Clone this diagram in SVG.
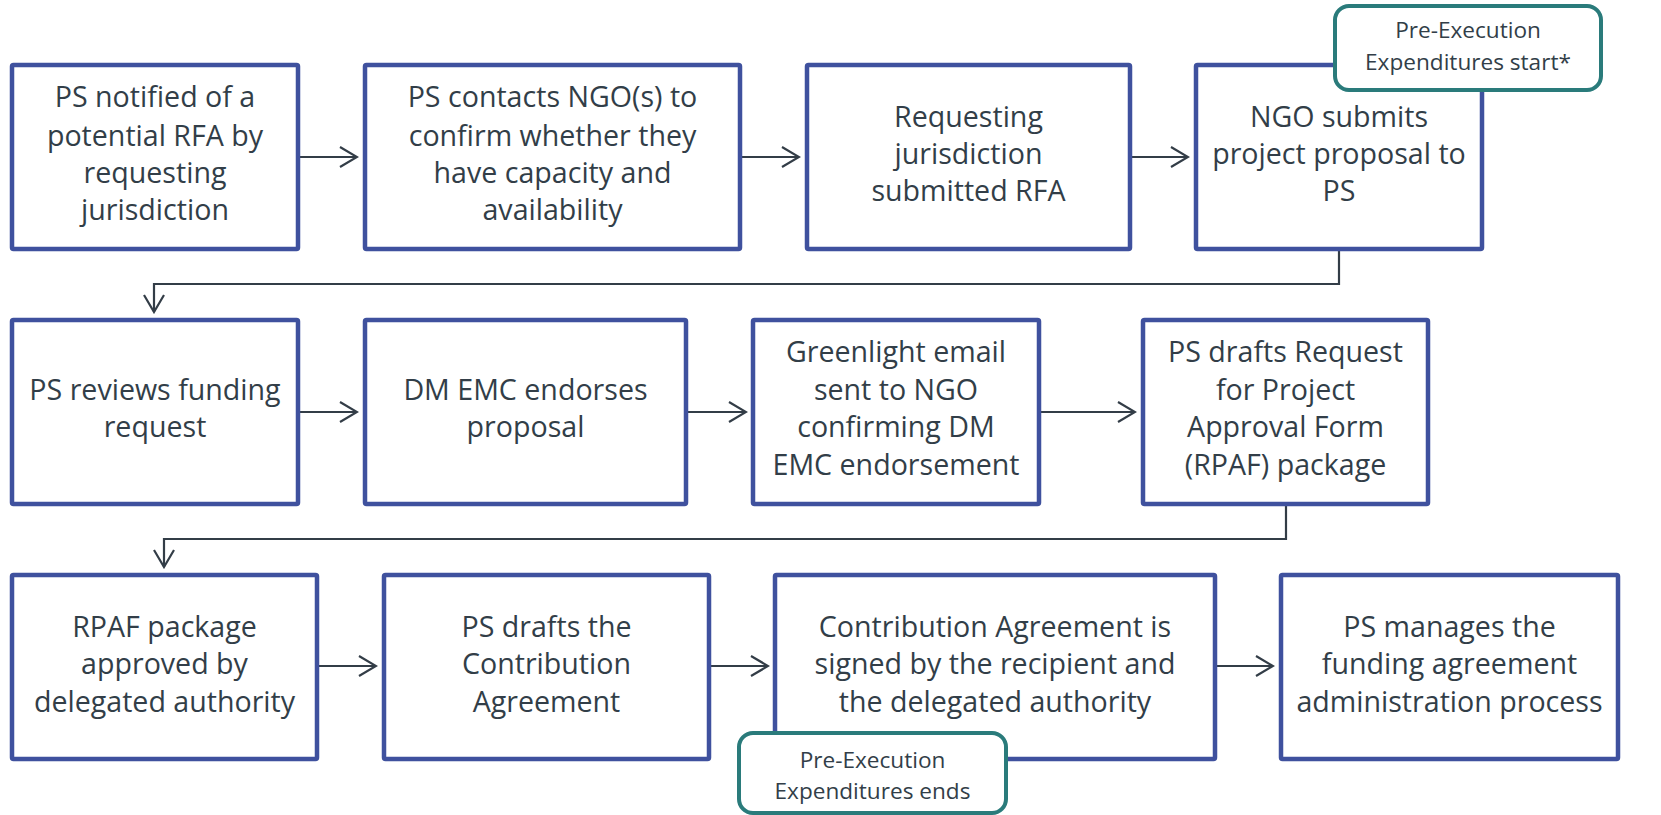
<svg xmlns="http://www.w3.org/2000/svg" width="1661" height="815" viewBox="0 0 1661 815">
<defs>
<marker id="arr" viewBox="-20 -12 22 24" refX="0" refY="0" markerWidth="22" markerHeight="24" markerUnits="userSpaceOnUse" orient="auto">
<path d="M-17,-10 L0,0 L-17,10" fill="none" stroke="#333D47" stroke-width="2.2"/>
</marker>
<style>
.box{fill:#fff;stroke:#3F519E;stroke-width:4.5}
.call{fill:#fff;stroke:#2A7B7B;stroke-width:4}
.t{font-family:"Open Sans","Noto Sans",sans-serif;font-size:28.6px;fill:#323E48;text-anchor:middle}
.c{font-family:"Open Sans","Noto Sans",sans-serif;font-size:22.6px;fill:#323E48;text-anchor:middle}
.ln{fill:none;stroke:#333D47;stroke-width:2.2}
</style>
</defs>
<rect width="1661" height="815" fill="#fff"/>
<g id="connectors">
<line class="ln" x1="300" y1="157" x2="357" y2="157" marker-end="url(#arr)"/>
<line class="ln" x1="742" y1="157" x2="799" y2="157" marker-end="url(#arr)"/>
<line class="ln" x1="1132" y1="157" x2="1188" y2="157" marker-end="url(#arr)"/>
<polyline class="ln" points="1339,251 1339,284 154,284 154,312" marker-end="url(#arr)"/>
<line class="ln" x1="300" y1="412" x2="357" y2="412" marker-end="url(#arr)"/>
<line class="ln" x1="688" y1="412" x2="746" y2="412" marker-end="url(#arr)"/>
<line class="ln" x1="1041" y1="412" x2="1135" y2="412" marker-end="url(#arr)"/>
<polyline class="ln" points="1286,506 1286,539 164,539 164,567" marker-end="url(#arr)"/>
<line class="ln" x1="319" y1="666" x2="376" y2="666" marker-end="url(#arr)"/>
<line class="ln" x1="711" y1="666" x2="768" y2="666" marker-end="url(#arr)"/>
<line class="ln" x1="1217" y1="666" x2="1273" y2="666" marker-end="url(#arr)"/>
</g>
<g id="n1"><rect class="box" x="12" y="65" width="286" height="184" rx="1.5"/>
<text class="t"><tspan x="155" y="107">PS notified of a</tspan><tspan x="155" y="146">potential RFA by</tspan><tspan x="155" y="183">requesting</tspan><tspan x="155" y="220">jurisdiction</tspan></text></g>
<g id="n2"><rect class="box" x="365" y="65" width="375" height="184" rx="1.5"/>
<text class="t"><tspan x="552.5" y="107">PS contacts NGO(s) to</tspan><tspan x="552.5" y="146">confirm whether they</tspan><tspan x="552.5" y="183">have capacity and</tspan><tspan x="552.5" y="220">availability</tspan></text></g>
<g id="n3"><rect class="box" x="807" y="65" width="323" height="184" rx="1.5"/>
<text class="t"><tspan x="968.5" y="127">Requesting</tspan><tspan x="968.5" y="164">jurisdiction</tspan><tspan x="968.5" y="201">submitted RFA</tspan></text></g>
<g id="n4"><rect class="box" x="1196" y="65" width="286" height="184" rx="1.5"/>
<text class="t"><tspan x="1339" y="127">NGO submits</tspan><tspan x="1339" y="164">project proposal to</tspan><tspan x="1339" y="201">PS</tspan></text></g>
<g id="callout-start"><rect class="call" x="1335" y="6" width="266" height="84" rx="14"/>
<text class="c"><tspan x="1468" y="38">Pre-Execution</tspan><tspan x="1468" y="70">Expenditures start*</tspan></text></g>
<g id="n5"><rect class="box" x="12" y="320" width="286" height="184" rx="1.5"/>
<text class="t"><tspan x="155" y="400">PS reviews funding</tspan><tspan x="155" y="437">request</tspan></text></g>
<g id="n6"><rect class="box" x="365" y="320" width="321" height="184" rx="1.5"/>
<text class="t"><tspan x="525.5" y="400">DM EMC endorses</tspan><tspan x="525.5" y="437">proposal</tspan></text></g>
<g id="n7"><rect class="box" x="753" y="320" width="286" height="184" rx="1.5"/>
<text class="t"><tspan x="896" y="362">Greenlight email</tspan><tspan x="896" y="400">sent to NGO</tspan><tspan x="896" y="437">confirming DM</tspan><tspan x="896" y="475">EMC endorsement</tspan></text></g>
<g id="n8"><rect class="box" x="1143" y="320" width="285" height="184" rx="1.5"/>
<text class="t"><tspan x="1285.5" y="362">PS drafts Request</tspan><tspan x="1285.5" y="400">for Project</tspan><tspan x="1285.5" y="437">Approval Form</tspan><tspan x="1285.5" y="475">(RPAF) package</tspan></text></g>
<g id="n9"><rect class="box" x="12" y="575" width="305" height="184" rx="1.5"/>
<text class="t"><tspan x="164.5" y="637">RPAF package</tspan><tspan x="164.5" y="674">approved by</tspan><tspan x="164.5" y="712">delegated authority</tspan></text></g>
<g id="n10"><rect class="box" x="384" y="575" width="325" height="184" rx="1.5"/>
<text class="t"><tspan x="546.5" y="637">PS drafts the</tspan><tspan x="546.5" y="674">Contribution</tspan><tspan x="546.5" y="712">Agreement</tspan></text></g>
<g id="n11"><rect class="box" x="775" y="575" width="440" height="184" rx="1.5"/>
<text class="t"><tspan x="995" y="637">Contribution Agreement is</tspan><tspan x="995" y="674">signed by the recipient and</tspan><tspan x="995" y="712">the delegated authority</tspan></text></g>
<g id="n12"><rect class="box" x="1281" y="575" width="337" height="184" rx="1.5"/>
<text class="t"><tspan x="1449.5" y="637">PS manages the</tspan><tspan x="1449.5" y="674">funding agreement</tspan><tspan x="1449.5" y="712">administration process</tspan></text></g>
<g id="callout-end"><rect class="call" x="739" y="733" width="267" height="80" rx="14"/>
<text class="c"><tspan x="872.5" y="768">Pre-Execution</tspan><tspan x="872.5" y="799">Expenditures ends</tspan></text></g>
</svg>
